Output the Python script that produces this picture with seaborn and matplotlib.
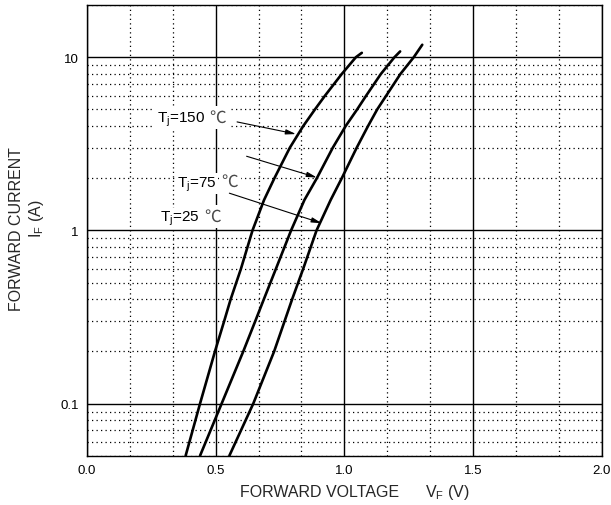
import numpy as np
import pandas as pd
import matplotlib
matplotlib.use("Agg")
import matplotlib.pyplot as plt
import seaborn as sns
from matplotlib.ticker import FixedLocator, MultipleLocator, LogLocator, NullFormatter, FixedFormatter

# ---- data ----
i_150 = [0.05, 0.1, 0.2, 0.3, 0.4, 0.6, 1.0, 1.5, 2.0, 3.0, 4.0, 5.0, 6.0, 8.0, 10.0, 10.6]
v_150 = [0.383, 0.439, 0.497, 0.533, 0.558, 0.598, 0.643, 0.688, 0.728, 0.788, 0.840, 0.886, 0.925, 0.990, 1.045, 1.068]
i_75 = [0.05, 0.1, 0.2, 0.3, 0.4, 0.6, 1.0, 1.5, 2.0, 3.0, 4.0, 5.0, 6.0, 8.0, 10.0, 10.8]
v_75 = [0.439, 0.523, 0.607, 0.654, 0.687, 0.734, 0.793, 0.845, 0.893, 0.955, 1.005, 1.050, 1.085, 1.142, 1.195, 1.217]
i_25 = [0.05, 0.1, 0.2, 0.3, 0.4, 0.6, 1.0, 1.5, 2.0, 3.0, 4.0, 5.0, 6.0, 8.0, 10.0, 11.8]
v_25 = [0.553, 0.646, 0.727, 0.768, 0.797, 0.840, 0.892, 0.947, 0.990, 1.048, 1.092, 1.128, 1.163, 1.218, 1.270, 1.303]

series_names = ["150", "75", "25"]
x_ticks = [0.0, 0.5, 1.0, 1.5, 2.0]
x_tick_labels = ["0.0", "0.5", "1.0", "1.5", "2.0"]
y_ticks = [0.1, 1, 10]
y_tick_labels = ["0.1", "1", "10"]

label_texts = [r"T$_{\mathrm{j}}$=150", r"T$_{\mathrm{j}}$=75", r"T$_{\mathrm{j}}$=25"]
unit_text = "℃"
label_pos = [(0.270, 4.24), (0.350, 1.80), (0.283, 1.135)]
arrow_tails = [(0.583, 4.23), (0.620, 2.68), (0.553, 1.64)]
arrow_heads = [(0.812, 3.60), (0.893, 2.02), (0.912, 1.10)]

df = pd.concat([
    pd.DataFrame({"V": v_150, "I": i_150, "Tj": series_names[0]}),
    pd.DataFrame({"V": v_75, "I": i_75, "Tj": series_names[1]}),
    pd.DataFrame({"V": v_25, "I": i_25, "Tj": series_names[2]}),
], ignore_index=True)

sns.set_style("white")
plt.rcParams["font.family"] = ["Liberation Sans", "Noto Sans CJK SC", "DejaVu Sans"]
plt.rcParams["mathtext.fontset"] = "custom"
plt.rcParams["mathtext.rm"] = "Liberation Sans"
plt.rcParams["mathtext.it"] = "Liberation Sans:italic"
plt.rcParams["mathtext.default"] = "regular"

fig = plt.figure(figsize=(6.11, 5.06), dpi=100)
ax = fig.add_axes([0.1426, 0.0974, 0.8419, 0.8906])

sns.lineplot(data=df, x="V", y="I", hue="Tj", palette=["black"] * 3,
             linewidth=1.9, legend=False, estimator=None, sort=False, ax=ax)

ax.set_yscale("log")
ax.set_xlim(0, 2.0)
ax.set_ylim(0.05, 20)

ax.xaxis.set_major_locator(FixedLocator(x_ticks))
ax.xaxis.set_major_formatter(FixedFormatter(x_tick_labels))
ax.xaxis.set_minor_locator(MultipleLocator(1 / 6))
ax.yaxis.set_major_locator(FixedLocator(y_ticks))
ax.yaxis.set_major_formatter(FixedFormatter(y_tick_labels))
ax.yaxis.set_minor_locator(LogLocator(base=10, subs=np.arange(2, 10)))
ax.yaxis.set_minor_formatter(NullFormatter())

ax.grid(which="major", color="black", linewidth=1.0, linestyle="-")
ax.grid(which="minor", color="black", linewidth=0.9, linestyle=(0, (1, 2.6)))
ax.tick_params(which="both", length=0)
ax.tick_params(axis="x", labelsize=9.5, pad=6, colors="black")
ax.tick_params(axis="y", labelsize=9.5, pad=6, colors="black")
for sp in ax.spines.values():
    sp.set_color("black")
    sp.set_linewidth(1.0)
    sp.set_visible(True)

ax.set_xlabel("")
ax.set_ylabel("")

label_artists = []
for txt, (x, y) in zip(label_texts, label_pos):
    t = ax.text(x, y, txt, fontsize=11, ha="left", va="baseline", color="black",
                bbox=dict(facecolor="white", edgecolor="none", pad=1.0), zorder=5)
    label_artists.append(t)

for tail, head in zip(arrow_tails, arrow_heads):
    ax.annotate("", xy=head, xytext=tail,
                arrowprops=dict(arrowstyle="-|>,head_length=0.6,head_width=0.15",
                                color="black", lw=0.8, shrinkA=0, shrinkB=0), zorder=6)

fig.text(0.393, 0.0178, "FORWARD VOLTAGE", fontsize=11.5, ha="left", va="baseline")
fig.text(0.6956, 0.0178, r"V$_{\mathrm{F}}$ (V)", fontsize=11.5, ha="left", va="baseline")
fig.text(0.0278, 0.547, "FORWARD CURRENT", fontsize=11.5, rotation=90, ha="center", va="center")
fig.text(0.060, 0.567, r"I$_{\mathrm{F}}$ (A)", fontsize=11.5, rotation=90, ha="center", va="center")

fig.canvas.draw()
renderer = fig.canvas.get_renderer()
for t, (x, y) in zip(label_artists, label_pos):
    bb = t.get_window_extent(renderer)
    w_pts = bb.width * 72.0 / fig.dpi + 3.5
    ax.annotate(unit_text, xy=(x, y), xycoords="data", xytext=(w_pts, 0),
                textcoords="offset points", ha="left", va="baseline",
                fontsize=12, color="#4a4a4a", fontweight="light",
                family=["Noto Sans CJK SC", "DejaVu Sans"],
                bbox=dict(facecolor="white", edgecolor="none", pad=2.0), zorder=5)

fig.savefig("out.png", dpi=100)
